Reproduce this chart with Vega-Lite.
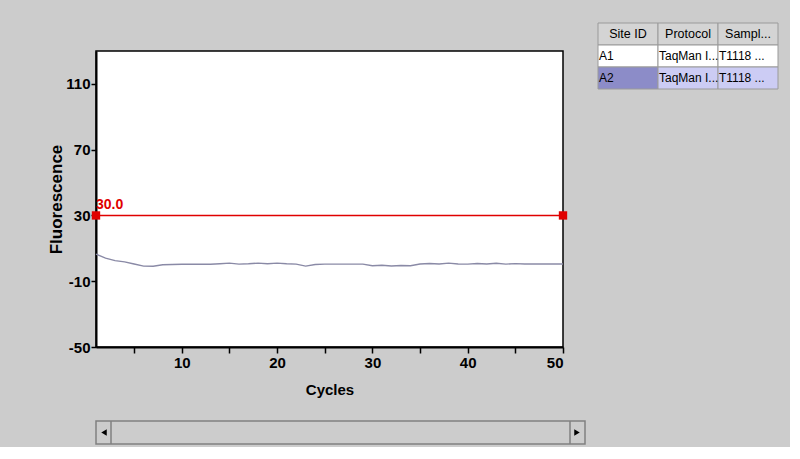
{
  "$schema": "https://vega.github.io/schema/vega-lite/v6.json",
  "background": "#cccccc",
  "padding": {"left": 47, "top": 22, "right": 11, "bottom": 1},
  "config": {
    "view": {"stroke": null},
    "font": "Liberation Sans, Arial, sans-serif"
  },
  "spacing": 21,
  "vconcat": [
    {
      "spacing": 29,
      "hconcat": [
        {
          "spacing": 22,
          "vconcat": [
            {
              "width": 1,
              "height": 5,
              "data": {"values": []},
              "mark": "point"
            },
            {
              "width": 467,
              "height": 296,
              "view": {"fill": "white", "stroke": "black", "strokeWidth": 1.5},
              "layer": [
                {
                  "data": {"values": [
                    {"cycle": 1, "fluorescence": 6.5}, {"cycle": 2, "fluorescence": 4.0}, {"cycle": 3, "fluorescence": 2.5},
                    {"cycle": 4, "fluorescence": 1.8}, {"cycle": 5, "fluorescence": 0.5}, {"cycle": 6, "fluorescence": -0.8},
                    {"cycle": 7, "fluorescence": -0.9}, {"cycle": 8, "fluorescence": 0.0}, {"cycle": 9, "fluorescence": 0.2},
                    {"cycle": 10, "fluorescence": 0.3}, {"cycle": 11, "fluorescence": 0.3}, {"cycle": 12, "fluorescence": 0.3},
                    {"cycle": 13, "fluorescence": 0.3}, {"cycle": 14, "fluorescence": 0.6}, {"cycle": 15, "fluorescence": 1.0},
                    {"cycle": 16, "fluorescence": 0.4}, {"cycle": 17, "fluorescence": 0.6}, {"cycle": 18, "fluorescence": 1.0},
                    {"cycle": 19, "fluorescence": 0.6}, {"cycle": 20, "fluorescence": 1.0}, {"cycle": 21, "fluorescence": 0.6},
                    {"cycle": 22, "fluorescence": 0.4}, {"cycle": 23, "fluorescence": -0.8}, {"cycle": 24, "fluorescence": 0.2},
                    {"cycle": 25, "fluorescence": 0.4}, {"cycle": 26, "fluorescence": 0.4}, {"cycle": 27, "fluorescence": 0.4},
                    {"cycle": 28, "fluorescence": 0.4}, {"cycle": 29, "fluorescence": 0.4}, {"cycle": 30, "fluorescence": -0.6},
                    {"cycle": 31, "fluorescence": -0.3}, {"cycle": 32, "fluorescence": -0.7}, {"cycle": 33, "fluorescence": -0.4},
                    {"cycle": 34, "fluorescence": -0.6}, {"cycle": 35, "fluorescence": 0.5}, {"cycle": 36, "fluorescence": 0.8},
                    {"cycle": 37, "fluorescence": 0.5}, {"cycle": 38, "fluorescence": 1.0}, {"cycle": 39, "fluorescence": 0.5},
                    {"cycle": 40, "fluorescence": 0.4}, {"cycle": 41, "fluorescence": 0.8}, {"cycle": 42, "fluorescence": 0.5},
                    {"cycle": 43, "fluorescence": 0.9}, {"cycle": 44, "fluorescence": 0.4}, {"cycle": 45, "fluorescence": 0.7},
                    {"cycle": 46, "fluorescence": 0.5}, {"cycle": 47, "fluorescence": 0.5}, {"cycle": 48, "fluorescence": 0.5},
                    {"cycle": 49, "fluorescence": 0.5}, {"cycle": 50, "fluorescence": 0.5}
                  ]},
                  "mark": {"type": "line", "color": "#8a8aa6", "strokeWidth": 1.4},
                  "encoding": {
                    "x": {
                      "field": "cycle", "type": "quantitative", "title": "Cycles",
                      "scale": {"domain": [1, 50], "nice": false, "zero": false},
                      "axis": {
                        "values": [5, 10, 15, 20, 25, 30, 35, 40, 45, 50],
                        "labelExpr": "datum.value % 10 == 0 ? datum.label : ''",
                        "grid": false, "domainColor": "black", "domainWidth": 2,
                        "tickColor": "black", "tickWidth": 1.5, "tickSize": 6,
                        "labelFontSize": 15, "labelFontWeight": "bold", "labelColor": "black", "labelPadding": 2,
                        "titleFontSize": 15, "titleFontWeight": "bold", "titleColor": "black", "titlePadding": 12
                      }
                    },
                    "y": {
                      "field": "fluorescence", "type": "quantitative", "title": "Fluorescence",
                      "scale": {"domain": [-50, 130], "nice": false, "zero": false},
                      "axis": {
                        "values": [-50, -30, -10, 10, 30, 50, 70, 90, 110],
                        "labelExpr": "(datum.value + 50) % 40 == 0 ? ('' + datum.value) : ''",
                        "grid": false, "domainColor": "black", "domainWidth": 2,
                        "tickColor": "black", "tickWidth": 1.5, "tickSize": 5,
                        "labelFontSize": 15, "labelFontWeight": "bold", "labelColor": "black", "labelPadding": 1,
                        "titleFontSize": 17, "titleFontWeight": "bold", "titleColor": "black", "titlePadding": 0
                      }
                    }
                  }
                },
                {
                  "data": {"values": [{"cycle": 1, "fluorescence": 30}, {"cycle": 50, "fluorescence": 30}]},
                  "mark": {"type": "line", "color": "#e00000", "strokeWidth": 1.5,
                           "point": {"shape": "square", "size": 70, "filled": true, "color": "#e00000"}},
                  "encoding": {
                    "x": {"field": "cycle", "type": "quantitative"},
                    "y": {"field": "fluorescence", "type": "quantitative"}
                  }
                },
                {
                  "data": {"values": [{"cycle": 1, "fluorescence": 30, "label": "30.0"}]},
                  "mark": {"type": "text", "align": "left", "baseline": "bottom", "dy": -3,
                           "color": "#e00000", "fontSize": 14, "fontWeight": "bold"},
                  "encoding": {
                    "x": {"field": "cycle", "type": "quantitative"},
                    "y": {"field": "fluorescence", "type": "quantitative"},
                    "text": {"field": "label"}
                  }
                }
              ]
            }
          ]
        },
        {
          "width": 180,
          "height": 66,
          "data": {"values": [
            {"row": "header", "column": "Site ID", "text": "Site ID", "state": "header"},
            {"row": "header", "column": "Protocol", "text": "Protocol", "state": "header"},
            {"row": "header", "column": "Sample", "text": "Sampl...", "state": "header"},
            {"row": "A1", "column": "Site ID", "text": "A1", "state": "normal"},
            {"row": "A1", "column": "Protocol", "text": "TaqMan I...", "state": "normal"},
            {"row": "A1", "column": "Sample", "text": "T1118 ...", "state": "normal"},
            {"row": "A2", "column": "Site ID", "text": "A2", "state": "focus"},
            {"row": "A2", "column": "Protocol", "text": "TaqMan I...", "state": "selected"},
            {"row": "A2", "column": "Sample", "text": "T1118 ...", "state": "selected"}
          ]},
          "encoding": {
            "x": {"field": "column", "type": "nominal", "sort": null, "scale": {"paddingInner": 0, "paddingOuter": 0}, "axis": null},
            "y": {"field": "row", "type": "nominal", "sort": null, "scale": {"paddingInner": 0, "paddingOuter": 0}, "axis": null}
          },
          "layer": [
            {
              "mark": {"type": "rect", "stroke": "#9a9a9a", "strokeWidth": 1},
              "encoding": {
                "color": {"field": "state", "type": "nominal", "legend": null,
                          "scale": {"domain": ["header", "normal", "focus", "selected"],
                                    "range": ["#d4d4d4", "#ffffff", "#8c8cc8", "#ccccf4"]}}
              }
            },
            {
              "transform": [{"filter": "datum.row == 'header'"}],
              "mark": {"type": "text", "fontSize": 12.5, "color": "black"},
              "encoding": {"text": {"field": "text"}}
            },
            {
              "transform": [{"filter": "datum.row != 'header'"}],
              "mark": {"type": "text", "fontSize": 12, "color": "black", "align": "left", "dx": 1},
              "encoding": {
                "x": {"field": "column", "type": "nominal", "sort": null, "bandPosition": 0},
                "text": {"field": "text"}
              }
            }
          ]
        }
      ]
    },
    {
      "width": 489,
      "height": 23,
      "view": {"fill": "#cccccc", "stroke": "#808080", "strokeWidth": 1.5},
      "data": {"values": [{"side": "left"}, {"side": "right"}]},
      "layer": [
        {
          "transform": [{"filter": "datum.side == 'left'"}],
          "mark": {"type": "point", "shape": "triangle-left", "size": 40, "filled": true, "color": "black", "opacity": 1, "xOffset": 8},
          "encoding": {"x": {"field": "side", "type": "nominal", "scale": {"type": "point", "padding": 0, "domain": ["left", "right"]}, "axis": null}}
        },
        {
          "transform": [{"filter": "datum.side == 'right'"}],
          "mark": {"type": "point", "shape": "triangle-right", "size": 40, "filled": true, "color": "black", "opacity": 1, "xOffset": -8},
          "encoding": {"x": {"field": "side", "type": "nominal", "scale": {"type": "point", "padding": 0, "domain": ["left", "right"]}, "axis": null}}
        },
        {
          "transform": [{"filter": "datum.side == 'left'"}],
          "mark": {"type": "rule", "color": "#808080", "strokeWidth": 1.5, "xOffset": 15},
          "encoding": {"x": {"field": "side", "type": "nominal", "scale": {"type": "point", "padding": 0, "domain": ["left", "right"]}, "axis": null}}
        },
        {
          "transform": [{"filter": "datum.side == 'right'"}],
          "mark": {"type": "rule", "color": "#808080", "strokeWidth": 1.5, "xOffset": -15},
          "encoding": {"x": {"field": "side", "type": "nominal", "scale": {"type": "point", "padding": 0, "domain": ["left", "right"]}, "axis": null}}
        }
      ]
    }
  ]
}
